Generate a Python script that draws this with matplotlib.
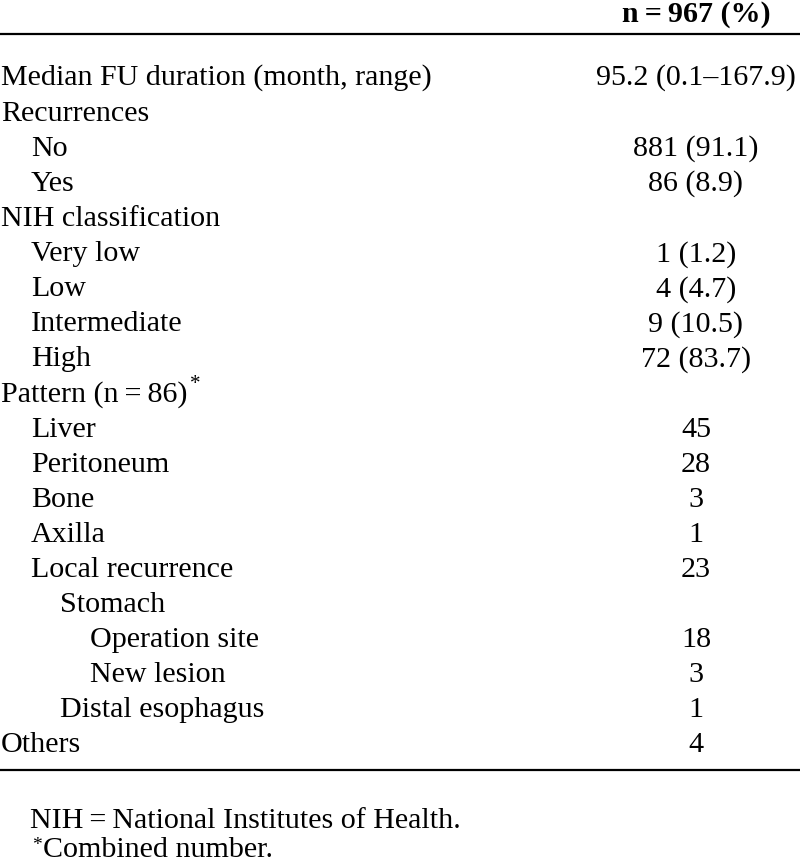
import matplotlib
matplotlib.use("Agg")
import matplotlib.pyplot as plt

header = "n\u2009=\u2009967 (%)"
labels = ["Median FU duration (month, range)", "Recurrences", "No", "Yes",
          "NIH classification", "Very low", "Low", "Intermediate", "High",
          "Pattern (n\u2009=\u200986)", "Liver", "Peritoneum", "Bone", "Axilla",
          "Local recurrence", "Stomach", "Operation site", "New lesion",
          "Distal esophagus", "Others"]
levels = [0, 0, 1, 1, 0, 1, 1, 1, 1, 0, 1, 1, 1, 1, 1, 2, 3, 3, 2, 0]
values = ["95.2 (0.1–167.9)", "", "881 (91.1)", "86 (8.9)", "", "1 (1.2)",
          "4 (4.7)", "9 (10.5)", "72 (83.7)", "", "45", "28", "3", "1", "23",
          "", "18", "3", "1", "4"]
footnotes = ["NIH\u2009=\u2009National Institutes of Health.", "Combined number."]

plt.rcParams['font.family'] = ['Liberation Serif', 'DejaVu Serif']

W, H = 800, 862
fig = plt.figure(figsize=(W/100, H/100), dpi=100)
ax = fig.add_axes([0, 0, 1, 1])
ax.set_xlim(0, W)
ax.set_ylim(H, 0)
ax.axis('off')

fs = 21.6
xval = 696
ax.text(xval, 22, header, ha='center', va='baseline', fontsize=fs, fontweight='bold')
ax.plot([0, W], [35, 35], color='black', lw=1.6, solid_capstyle='butt')

indent = [1, 31, 60, 90]
for i, (lab, lev, val) in enumerate(zip(labels, levels, values)):
    y = 85 if i == 0 else 121 + (i - 1) * 35.06
    t = ax.text(indent[lev], y, lab, ha='left', va='baseline', fontsize=fs)
    if lab.startswith("Pattern"):
        fig.canvas.draw()
        bb = t.get_window_extent()
        ax.text(bb.x1 + 2, y - 12, "*", ha='left', va='baseline', fontsize=fs * 0.7)
    if val:
        ax.text(xval, y, val, ha='center', va='baseline', fontsize=fs)

ax.plot([0, W], [771, 771], color='black', lw=1.6, solid_capstyle='butt')
ax.text(30, 828, footnotes[0], ha='left', va='baseline', fontsize=fs)
ax.text(32, 850, "*", ha='left', va='baseline', fontsize=fs * 0.65)
ax.text(43, 857, footnotes[1], ha='left', va='baseline', fontsize=fs)

fig.savefig("out.png", dpi=100)
